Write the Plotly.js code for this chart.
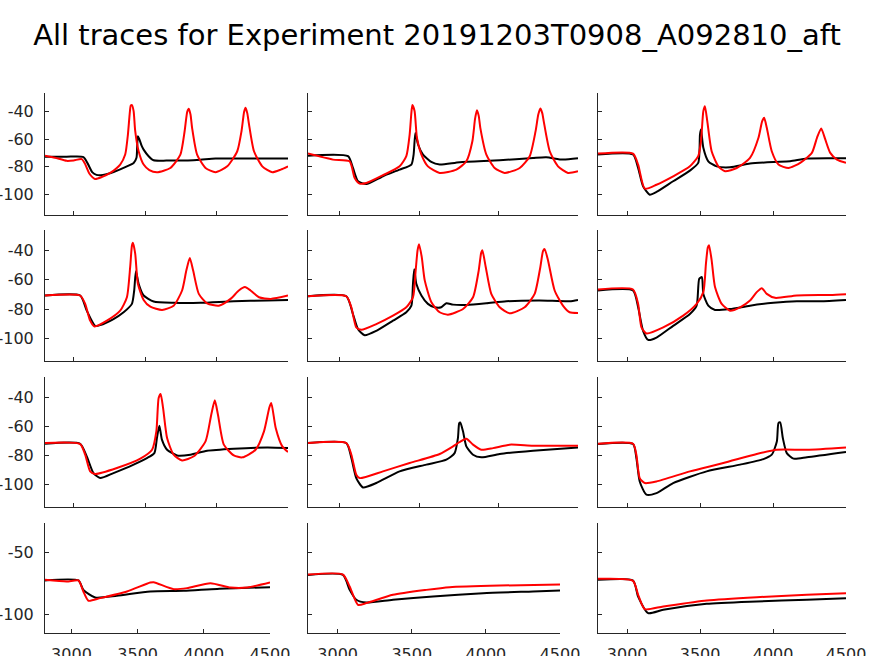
<!DOCTYPE html>
<html><head><meta charset="utf-8">
<script src="https://cdn.plot.ly/plotly-3.0.1.min.js"></script>
<style>html,body{margin:0;padding:0;background:#fff;}#chart{width:874px;height:656px;}</style>
</head><body><div id="chart"></div>
<script>
// Data: [time, voltage] pairs per panel; row-major panel order
const black11=[[2800,-72.8],[2950,-72.8],[3069,-73],[3100,-78],[3130,-84],[3160,-86],[3190,-86.3],[3230,-85.5],[3280,-83.9],[3373,-79.8],[3420,-77.3],[3440,-73.5],[3445,-65],[3450,-57.8],[3460,-60],[3475,-64.5],[3490,-67.6],[3525,-72.4],[3560,-75.4],[3650,-75.6],[3800,-75.5],[3887,-75],[3993,-74.1],[4200,-74],[4500,-74]];
const red11=[[2800,-72],[2870,-73.5],[2952,-75.8],[3000,-75.5],[3057,-74.5],[3080,-78],[3110,-85],[3150,-89],[3200,-87.5],[3256,-84.6],[3326,-78.5],[3361,-71.2],[3380,-56.6],[3392,-42],[3400,-35.5],[3408,-35.1],[3420,-39.5],[3431,-54],[3455,-68.8],[3490,-78.5],[3530,-82.5],[3583,-84.1],[3677,-81],[3747,-71.2],[3777,-54],[3795,-40],[3806,-37.8],[3818,-42],[3829,-51.7],[3864,-71.2],[3923,-81],[3993,-84.1],[4075,-79.8],[4145,-68.8],[4175,-54],[4193,-40],[4203,-37],[4215,-41],[4227,-49],[4262,-68.8],[4320,-79.8],[4390,-84.1],[4449,-82.2],[4500,-79.8]];
const black12=[[2800,-72],[3052,-72.4],[3083,-81],[3115,-90.7],[3167,-92.7],[3272,-87],[3377,-82.2],[3451,-78.5],[3465,-71.2],[3476,-55.4],[3493,-63.9],[3524,-71.2],[3576,-76.6],[3629,-78.5],[3755,-76.8],[4007,-75.4],[4217,-73.7],[4300,-73.2],[4405,-74.9],[4500,-73.9]];
const red12=[[2800,-70.5],[2957,-74.9],[3062,-76.1],[3094,-88.3],[3125,-92.4],[3167,-92],[3272,-86.3],[3377,-79.8],[3419,-72.4],[3440,-56.6],[3450,-42],[3457,-35.1],[3471,-39.5],[3486,-59],[3514,-71.2],[3555,-79.8],[3629,-84.6],[3734,-82.2],[3797,-76.1],[3835,-61.5],[3852,-45],[3864,-38.8],[3875,-43],[3885,-51.7],[3923,-71.2],[3975,-81],[4038,-84.6],[4133,-81],[4196,-72.4],[4233,-54.1],[4250,-42],[4263,-37.6],[4275,-41],[4284,-46.8],[4322,-68.8],[4374,-79.8],[4437,-84.6],[4500,-83.4]];
const black13=[[2800,-71.2],[3040,-71.2],[3075,-81],[3109,-94.4],[3155,-100.5],[3201,-98.5],[3315,-90.7],[3430,-82.9],[3487,-77.3],[3499,-56.6],[3506,-52.9],[3522,-66.3],[3556,-76.1],[3613,-79.8],[3705,-80.5],[3842,-77.8],[4003,-76.6],[4117,-76.1],[4232,-74.1],[4500,-73.9]];
const red13=[[2800,-70.5],[3040,-70.5],[3075,-78.5],[3121,-96.1],[3201,-93.2],[3315,-87.1],[3430,-79.8],[3487,-72.4],[3506,-61.5],[3522,-39.5],[3533,-35.9],[3549,-46.8],[3579,-68.8],[3625,-79.8],[3671,-83.4],[3751,-81],[3842,-73.7],[3900,-59],[3925,-47],[3939,-44.4],[3957,-51.7],[3991,-68.8],[4037,-78.5],[4106,-81],[4186,-77.3],[4266,-70],[4301,-59],[4330,-52.2],[4358,-60.2],[4392,-70],[4438,-74.9],[4500,-77.3]];
const black21=[[2800,-70.8],[3046,-70.8],[3092,-81.1],[3151,-91.4],[3186,-90.9],[3279,-86.8],[3350,-82.2],[3408,-76.5],[3424,-67.4],[3436,-54.4],[3455,-62.8],[3490,-70.8],[3560,-74.9],[3700,-75.8],[3887,-75.8],[4121,-74.7],[4355,-74.2],[4500,-73.8]];
const red21=[[2800,-70.8],[3046,-70.8],[3081,-76.5],[3116,-87.9],[3146,-91.8],[3233,-87.9],[3326,-81.1],[3373,-72],[3396,-51.4],[3408,-37],[3415,-35],[3431,-42.3],[3450,-62.8],[3490,-73.8],[3537,-78.4],[3619,-80.6],[3700,-77.7],[3759,-67.4],[3789,-53.7],[3813,-45.3],[3836,-53.7],[3876,-69.7],[3934,-76.1],[4016,-77.7],[4098,-73.1],[4156,-67.4],[4199,-65.1],[4238,-67.4],[4297,-72],[4379,-73.1],[4500,-70.8]];
const black22=[[2800,-71.3],[3041,-71.3],[3083,-83.4],[3115,-93.7],[3157,-97.8],[3230,-94.8],[3335,-87.9],[3419,-82.2],[3451,-77.7],[3461,-62.8],[3469,-53],[3482,-62.8],[3514,-70.8],[3555,-76.5],[3597,-78.8],[3639,-78.8],[3671,-76.1],[3713,-77],[3797,-77.2],[3923,-76.1],[4049,-74.7],[4259,-74.2],[4447,-74.7],[4500,-73.8]];
const red22=[[2800,-71.3],[3041,-71.3],[3073,-78.8],[3104,-92.5],[3136,-94.1],[3230,-90.2],[3335,-84.5],[3419,-78.8],[3461,-72],[3478,-53.7],[3490,-40],[3499,-35.9],[3516,-44.6],[3535,-60.5],[3577,-75.4],[3629,-82.2],[3681,-83.8],[3776,-80],[3839,-72],[3875,-53.7],[3890,-42],[3898,-40],[3919,-51.4],[3954,-69.7],[4007,-78.8],[4070,-82.9],[4164,-78.8],[4227,-69.7],[4263,-51.4],[4280,-40.5],[4290,-39.3],[4311,-46.8],[4353,-67.4],[4405,-77.7],[4447,-82.2],[4500,-82.7]];
const black23=[[2800,-67.4],[3040,-67.4],[3075,-78.8],[3109,-94.8],[3144,-101],[3201,-99.4],[3315,-91.4],[3430,-83.4],[3476,-77.7],[3494,-59.4],[3512,-58.3],[3522,-69.7],[3556,-77.7],[3602,-80.6],[3705,-80],[3842,-77.7],[4003,-75.8],[4163,-74.7],[4324,-74.7],[4500,-73.8]];
const red23=[[2800,-66.7],[3040,-66.7],[3075,-76.5],[3098,-92.5],[3132,-96.6],[3247,-92.5],[3384,-84.5],[3476,-76.5],[3522,-68.5],[3540,-49.1],[3553,-38],[3561,-36.6],[3579,-46.8],[3602,-65.1],[3648,-76.5],[3705,-81.1],[3774,-78.8],[3842,-74.2],[3888,-68.5],[3923,-65.8],[3957,-69.7],[4014,-72.4],[4163,-70.8],[4392,-70.4],[4500,-69.9]];
const black31=[[2800,-72],[3046,-72],[3092,-80.6],[3139,-92.1],[3186,-95.5],[3279,-92.1],[3420,-86.3],[3513,-81.8],[3565,-78.4],[3583,-68.1],[3600,-59.6],[3618,-69.2],[3654,-76.1],[3724,-80],[3817,-79.5],[3934,-76.8],[4121,-75.4],[4355,-74.5],[4500,-74.9]];
const red31=[[2800,-71.5],[3046,-72.2],[3081,-79.5],[3116,-90.9],[3151,-92.7],[3303,-88.6],[3467,-82.2],[3549,-76.1],[3579,-63.5],[3595,-40.7],[3609,-38],[3626,-47.5],[3654,-68.1],[3700,-79.5],[3759,-83.4],[3841,-80.6],[3923,-70.4],[3963,-52.1],[3988,-42.3],[4010,-52.1],[4051,-72.6],[4121,-80],[4180,-81.3],[4273,-76.1],[4332,-63.5],[4370,-47],[4383,-44.1],[4414,-61.2],[4460,-73.8],[4500,-77.7]];
const black32=[[2800,-71.5],[3041,-71.5],[3073,-81.8],[3104,-95.5],[3146,-101.9],[3230,-98.9],[3377,-90.9],[3545,-86.3],[3671,-82.9],[3723,-78.4],[3744,-68.1],[3752,-58],[3759,-57.4],[3776,-63.5],[3797,-73.8],[3839,-79.5],[3891,-81.3],[4007,-79],[4217,-76.8],[4500,-74.5]];
const red32=[[2800,-71.5],[3041,-71.5],[3073,-79.5],[3104,-93.2],[3125,-95.5],[3272,-90.9],[3440,-85.2],[3629,-79],[3713,-73.8],[3755,-70.8],[3797,-68.5],[3839,-72.6],[3891,-76.1],[3965,-75],[4070,-72.6],[4217,-73.3],[4500,-73.3]];
const black33=[[2800,-72.2],[3040,-72.2],[3063,-81.8],[3086,-97.8],[3132,-106.9],[3201,-105.8],[3315,-98.9],[3545,-90.9],[3774,-86.3],[3934,-82.5],[3991,-79.5],[4026,-70.4],[4037,-57.8],[4049,-57.4],[4067,-68.1],[4094,-78.4],[4140,-82.2],[4232,-81.3],[4500,-77.7]];
const red33=[[2800,-72],[3040,-72],[3063,-79.5],[3086,-95.5],[3121,-98.9],[3201,-97.8],[3430,-90.9],[3659,-85.2],[3888,-79],[4026,-76.1],[4232,-76.1],[4500,-74.5]];
const black41=[[2800,-72.8],[3053,-72.8],[3090,-80.4],[3179,-86.6],[3343,-85.2],[3595,-81.7],[3848,-81.2],[4101,-79.6],[4500,-78.2]];
const red41=[[2800,-72.3],[2964,-73.7],[3053,-72.8],[3090,-81.7],[3128,-89.2],[3217,-87.1],[3419,-81.7],[3595,-74.5],[3621,-74.2],[3772,-79.8],[3873,-79],[4050,-75],[4202,-78.5],[4328,-78.5],[4500,-74.5]];
const black42=[[2800,-68.3],[3036,-68.3],[3081,-80.4],[3126,-88.4],[3194,-90.6],[3373,-88.4],[3643,-85.8],[3981,-83.1],[4318,-81.7],[4500,-80.9]];
const red42=[[2800,-68],[3036,-68],[3081,-77.7],[3137,-92.5],[3194,-91.1],[3373,-84.4],[3598,-80.4],[3756,-78.2],[4093,-76.9],[4500,-76.1]];
const black43=[[2800,-72.3],[3040,-72.8],[3075,-85.8],[3144,-99.2],[3247,-96.5],[3545,-91.7],[3888,-89.8],[4232,-88.4],[4500,-87.1]];
const red43=[[2800,-71.5],[3040,-73.1],[3075,-84.4],[3121,-96],[3247,-93.8],[3545,-89],[3888,-86.3],[4232,-84.4],[4500,-83.1]];

const blackTraces=[black11,black12,black13,black21,black22,black23,black31,black32,black33,black41,black42,black43];
const redTraces=[red11,red12,red13,red21,red22,red23,red31,red32,red33,red41,red42,red43];

const xTickVals=[3000,3500,4000,4500];
const xTickText=["3000","3500","4000","4500"];
const yTickVals=[-100,-80,-60,-40];
const yTickText=["-100","-80","-60","-40"];
const yTickValsLast=[-100,-50];
const yTickTextLast=["-100","-50"];
const titleText="All traces for Experiment 20191203T0908_A092810_aft";

// Layout geometry (pixels)
const W=874,H=656;
const rowPx=[[93,215],[230,361],[377,507],[523,633]];
const colPx=[[45,288],[308,578],[598,846]];
const colPxLast=[[45,270],[308,560],[598,846]];

const axColor='#262626';
const tickFont={family:'DejaVu Sans, sans-serif',size:16,color:axColor};
const traces=[];
const layout={
  width:W,height:H,margin:{l:0,r:0,t:0,b:0},
  paper_bgcolor:'#fff',plot_bgcolor:'#fff',showlegend:false,
  title:{text:titleText,x:0.5,xanchor:'center',xref:'paper',yref:'container',y:1-35/H,yanchor:'middle',
    font:{family:'DejaVu Sans, sans-serif',size:29,color:'#000'}}
};
for(let r=0;r<4;r++){
  for(let c=0;c<3;c++){
    const k=r*3+c;
    const s=k===0?'':String(k+1);
    const cp=(r===3?colPxLast:colPx)[c];
    const rp=rowPx[r];
    layout['xaxis'+s]={domain:[cp[0]/W,cp[1]/W],range:[2800,4500],anchor:'y'+s,
      showline:true,linecolor:axColor,linewidth:1,ticks:'inside',ticklen:4,tickcolor:axColor,tickwidth:1,
      tickmode:'array',tickvals:xTickVals,ticktext:xTickText,showticklabels:r===3,tickfont:tickFont,
      ticklabelstandoff:7,showgrid:false,zeroline:false,fixedrange:true};
    layout['yaxis'+s]={domain:[1-rp[1]/H,1-rp[0]/H],range:[-115.3,-26.3],anchor:'x'+s,
      showline:true,linecolor:axColor,linewidth:1,ticks:'inside',ticklen:4,tickcolor:axColor,tickwidth:1,
      tickmode:'array',tickvals:r===3?yTickValsLast:yTickVals,ticktext:r===3?yTickTextLast:yTickText,
      showticklabels:c===0,tickfont:tickFont,ticklabelstandoff:7,showgrid:false,zeroline:false,fixedrange:true};
    const b=blackTraces[k], rd=redTraces[k];
    traces.push({x:b.map(p=>p[0]),y:b.map(p=>p[1]),xaxis:'x'+s,yaxis:'y'+s,mode:'lines',
      line:{color:'#000',width:2,shape:'spline',smoothing:0.6},hoverinfo:'skip'});
    traces.push({x:rd.map(p=>p[0]),y:rd.map(p=>p[1]),xaxis:'x'+s,yaxis:'y'+s,mode:'lines',
      line:{color:'#ff0000',width:2,shape:'spline',smoothing:0.6},hoverinfo:'skip'});
  }
}
Plotly.newPlot('chart',traces,layout,{staticPlot:true,displayModeBar:false});
</script></body></html>
